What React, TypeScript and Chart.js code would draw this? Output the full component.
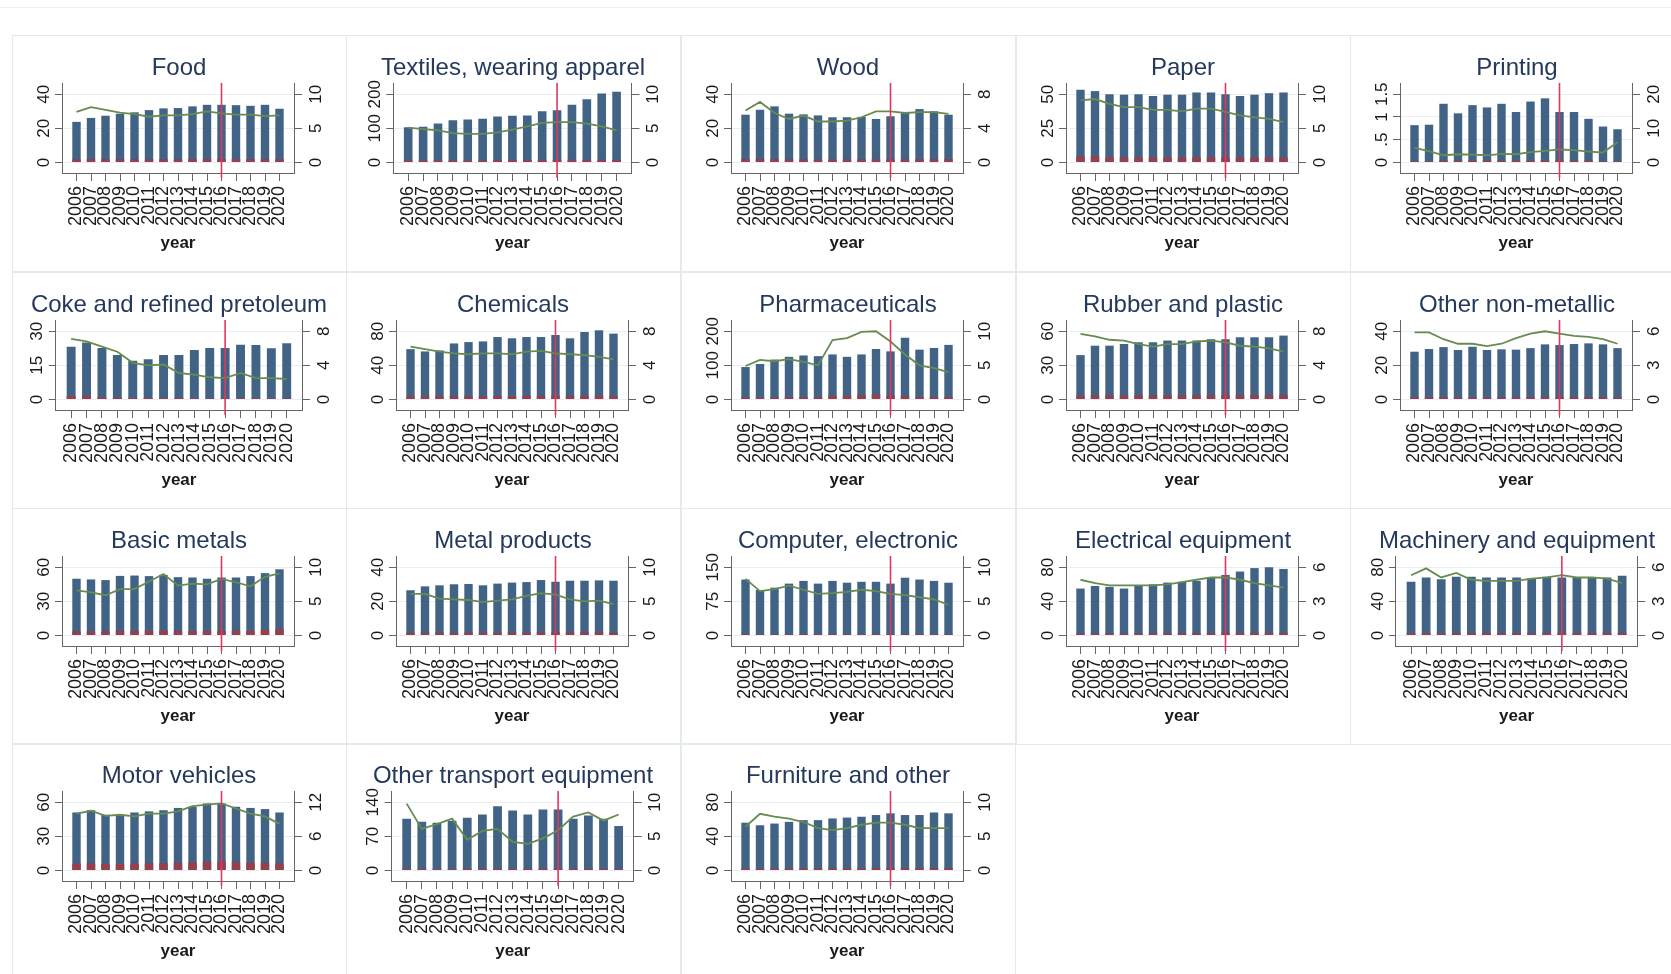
import React, { useEffect, useRef } from 'react';
import { Chart, registerables } from 'chart.js';

Chart.register(...registerables);

// ---- data -------------------------------------------------------------
const years = [2006, 2007, 2008, 2009, 2010, 2011, 2012, 2013, 2014, 2015, 2016, 2017, 2018, 2019, 2020];
const markerYear = 2016;

const foodBar = [23.8, 26.1, 27.4, 28.6, 29.4, 30.7, 31.7, 31.9, 32.9, 33.8, 33.8, 33.6, 33.2, 33.8, 31.5];
const foodBase = [1.8, 1.9, 1.9, 1.9, 1.8, 1.8, 1.9, 1.9, 2.0, 2.1, 2.1, 2.0, 2.0, 2.0, 1.9];
const foodLine = [7.4, 8.1, 7.7, 7.3, 7.1, 6.7, 6.9, 6.9, 7.1, 7.5, 7.2, 7.0, 7.0, 6.8, 6.9];
const foodTicks = [0, 20, 40];
const foodTicks2 = [0, 5, 10];

const textilesBar = [103, 105, 114, 124, 126, 128, 135, 137, 138, 150, 153, 169, 185, 202, 207];
const textilesBase = [6, 6, 6, 6, 6, 6, 7, 7, 7, 8, 8, 8, 8, 8, 8];
const textilesLine = [5.1, 4.9, 4.7, 4.3, 4.2, 4.2, 4.4, 4.8, 5.3, 5.8, 5.9, 5.9, 5.7, 5.3, 4.7];
const textilesTicks = [0, 100, 200];
const textilesTicks2 = [0, 5, 10];

const woodBar = [28.0, 30.9, 32.9, 28.6, 28.2, 27.6, 26.5, 26.5, 26.7, 25.5, 27.1, 29.4, 31.3, 30.0, 28.0];
const woodBase = [2.0, 2.0, 2.0, 1.8, 1.8, 1.8, 1.7, 1.7, 1.8, 1.8, 1.8, 1.8, 1.9, 1.9, 1.9];
const woodLine = [6.1, 7.1, 5.8, 5.1, 5.5, 4.8, 4.8, 4.9, 5.3, 6.0, 6.0, 5.8, 5.9, 5.9, 5.7];
const woodTicks = [0, 20, 40];
const woodTicks2 = [0, 4, 8];

const paperBar = [53.3, 52.3, 50.0, 49.7, 50.0, 48.7, 49.7, 49.7, 51.3, 51.3, 50.0, 48.7, 49.7, 50.8, 51.3];
const paperBase = [4.4, 4.6, 3.8, 3.6, 3.6, 3.6, 3.6, 3.6, 3.7, 3.8, 3.6, 3.6, 3.6, 3.5, 3.5];
const paperLine = [9.1, 9.3, 8.6, 8.1, 8.1, 7.7, 7.7, 7.5, 7.9, 7.9, 7.4, 6.9, 6.6, 6.4, 5.9];
const paperTicks = [0, 25, 50];
const paperTicks2 = [0, 5, 10];

const printingBar = [0.82, 0.83, 1.29, 1.08, 1.26, 1.21, 1.29, 1.11, 1.34, 1.41, 1.11, 1.11, 0.96, 0.79, 0.73];
const printingBase = [0.03, 0.03, 0.04, 0.04, 0.04, 0.04, 0.04, 0.04, 0.04, 0.05, 0.04, 0.04, 0.04, 0.03, 0.03];
const printingLine = [4.3, 3.3, 2.1, 2.4, 2.3, 2.1, 2.5, 2.4, 3.0, 3.4, 3.8, 3.6, 3.2, 2.9, 5.9];
const printingTicks = [0, 0.5, 1, 1.5];
const printingTicks2 = [0, 10, 20];

const cokeBar = [23.2, 25.1, 22.6, 19.6, 17.0, 17.7, 19.5, 19.5, 21.7, 22.6, 22.6, 24.1, 23.9, 22.5, 24.7];
const cokeBase = [1.5, 1.6, 1.0, 0.9, 0.6, 0.6, 0.6, 0.6, 0.5, 0.5, 0.5, 0.6, 0.5, 0.5, 0.5];
const cokeLine = [7.1, 6.8, 6.2, 5.6, 4.3, 4.0, 4.1, 3.1, 2.9, 2.6, 2.5, 3.1, 2.5, 2.5, 2.4];
const cokeTicks = [0, 15, 30];
const cokeTicks2 = [0, 4, 8];

const chemicalsBar = [59.0, 56.3, 57.5, 65.7, 67.3, 68.1, 73.2, 71.7, 73.2, 73.2, 75.6, 71.7, 79.1, 81.1, 77.2];
const chemicalsBase = [3.6, 3.5, 3.5, 3.8, 3.8, 3.9, 4.0, 4.0, 4.1, 4.2, 4.3, 4.1, 4.2, 4.3, 4.0];
const chemicalsLine = [6.2, 5.9, 5.6, 5.4, 5.3, 5.4, 5.4, 5.3, 5.6, 5.7, 5.4, 5.3, 5.2, 5.0, 4.7];
const chemicalsTicks = [0, 40, 80];
const chemicalsTicks2 = [0, 4, 8];

const pharmaBar = [95, 104, 117, 125, 129, 127, 132, 125, 132, 148, 141, 181, 146, 151, 160];
const pharmaBase = [6, 6, 6, 7, 7, 7, 11, 11, 12, 15, 11, 10, 7, 7, 7];
const pharmaLine = [4.9, 5.8, 5.6, 5.9, 5.5, 5.0, 8.7, 9.0, 9.9, 10.0, 8.5, 6.6, 5.0, 4.6, 4.0];
const pharmaTicks = [0, 100, 200];
const pharmaTicks2 = [0, 5, 10];

const rubberBar = [39.0, 47.3, 47.3, 48.8, 50.3, 50.3, 51.8, 51.8, 51.8, 53.0, 53.0, 54.7, 54.7, 54.7, 56.2];
const rubberBase = [3.3, 3.5, 3.5, 3.5, 3.6, 3.6, 3.7, 3.7, 3.7, 3.8, 3.8, 3.8, 3.8, 3.7, 3.7];
const rubberLine = [7.7, 7.4, 7.0, 6.9, 6.5, 6.2, 6.5, 6.5, 6.8, 6.9, 6.7, 6.3, 6.2, 6.0, 5.6];
const rubberTicks = [0, 30, 60];
const rubberTicks2 = [0, 4, 8];

const nonMetallicBar = [28.0, 29.6, 30.7, 29.0, 30.9, 29.0, 29.4, 29.2, 30.1, 32.3, 31.9, 32.5, 32.9, 32.3, 30.1];
const nonMetallicBase = [1.3, 1.4, 1.4, 1.3, 1.3, 1.3, 1.3, 1.3, 1.3, 1.6, 1.5, 1.4, 1.4, 1.4, 1.3];
const nonMetallicLine = [5.9, 5.9, 5.3, 4.9, 4.9, 4.7, 4.9, 5.4, 5.8, 6.0, 5.8, 5.6, 5.5, 5.3, 4.9];
const nonMetallicTicks = [0, 20, 40];
const nonMetallicTicks2 = [0, 3, 6];

const basicMetalsBar = [49.9, 49.3, 48.7, 52.4, 52.7, 52.2, 53.3, 51.3, 51.0, 49.9, 51.0, 51.0, 52.2, 54.8, 58.2];
const basicMetalsBase = [3.6, 3.5, 3.5, 4.0, 4.0, 4.2, 4.4, 4.0, 4.0, 3.9, 4.0, 4.1, 4.1, 4.8, 5.6];
const basicMetalsLine = [6.6, 6.3, 5.9, 6.8, 6.8, 7.9, 9.0, 7.3, 7.6, 7.5, 8.3, 7.8, 7.2, 8.6, 9.1];
const basicMetalsTicks = [0, 30, 60];
const basicMetalsTicks2 = [0, 5, 10];

const metalProductsBar = [26.5, 28.8, 29.4, 30.0, 30.2, 29.4, 30.4, 31.0, 31.3, 32.5, 31.5, 32.1, 32.1, 32.3, 32.1];
const metalProductsBase = [1.6, 1.7, 1.7, 1.7, 1.7, 1.7, 1.7, 1.7, 1.8, 1.9, 1.8, 1.8, 1.8, 1.8, 1.7];
const metalProductsLine = [6.1, 6.1, 5.4, 5.3, 5.2, 4.9, 5.1, 5.3, 5.8, 6.2, 6.0, 5.3, 5.0, 5.1, 4.6];
const metalProductsTicks = [0, 20, 40];
const metalProductsTicks2 = [0, 5, 10];

const computerBar = [123, 100, 105, 114, 120, 114, 120, 116, 118, 118, 114, 127, 123, 120, 116];
const computerBase = [3.2, 3.0, 3.0, 3.1, 3.2, 3.1, 3.2, 3.1, 3.1, 3.2, 3.1, 3.3, 3.2, 3.2, 3.1];
const computerLine = [8.3, 6.5, 6.8, 7.3, 6.7, 6.1, 6.2, 6.4, 6.7, 6.5, 6.1, 5.9, 5.6, 5.3, 4.5];
const computerTicks = [0, 75, 150];
const computerTicks2 = [0, 5, 10];

const electricalBar = [55, 58, 57, 55, 59, 60, 62, 63, 64, 68, 71, 75, 79, 80, 78];
const electricalBase = [2.4, 2.5, 2.5, 2.4, 2.5, 2.6, 2.6, 2.7, 2.7, 2.8, 2.9, 3.0, 3.1, 3.2, 3.1];
const electricalLine = [4.9, 4.6, 4.4, 4.4, 4.4, 4.4, 4.5, 4.7, 4.9, 5.1, 5.1, 4.9, 4.6, 4.4, 4.2];
const electricalTicks = [0, 40, 80];
const electricalTicks2 = [0, 3, 6];

const machineryBar = [63, 68, 66, 69, 69, 68, 68, 68, 67, 69, 68, 68, 68, 68, 70];
const machineryBase = [2.6, 2.8, 2.7, 2.8, 2.8, 2.8, 2.8, 2.8, 2.7, 2.8, 2.8, 2.8, 2.8, 2.8, 2.9];
const machineryLine = [5.3, 5.9, 5.1, 5.5, 4.9, 4.8, 4.8, 4.8, 5.0, 5.1, 5.3, 5.1, 5.1, 5.0, 4.6];
const machineryTicks = [0, 40, 80];
const machineryTicks2 = [0, 3, 6];

const motorBar = [51, 53, 49, 48, 51, 52, 53, 55, 56, 59, 59, 56, 55, 54, 51];
const motorBase = [6.0, 6.2, 5.8, 5.8, 6.0, 6.2, 6.4, 6.8, 7.0, 7.6, 7.8, 7.0, 6.8, 6.6, 6.2];
const motorLine = [10.0, 10.5, 9.6, 9.8, 9.5, 10.0, 10.0, 10.4, 11.3, 11.6, 11.8, 10.9, 10.0, 9.5, 8.2];
const motorTicks = [0, 30, 60];
const motorTicks2 = [0, 6, 12];

const transportBar = [106, 100, 98, 102, 108, 115, 132, 123, 115, 125, 125, 106, 113, 106, 91];
const transportBase = [3.2, 3.0, 3.0, 3.1, 3.2, 3.4, 3.8, 3.6, 3.4, 3.6, 3.6, 3.2, 3.4, 3.2, 2.8];
const transportLine = [9.8, 6.1, 6.8, 7.6, 4.5, 5.8, 6.1, 4.2, 3.9, 4.7, 5.9, 7.9, 8.5, 7.3, 8.2];
const transportTicks = [0, 70, 140];
const transportTicks2 = [0, 5, 10];

const furnitureBar = [56, 53, 55, 57, 59, 59, 61, 62, 63, 65, 67, 65, 65, 68, 67];
const furnitureBase = [2.4, 2.3, 2.4, 2.5, 2.5, 2.5, 2.6, 2.6, 2.7, 2.8, 2.8, 2.8, 2.8, 2.9, 2.8];
const furnitureLine = [6.4, 8.3, 7.9, 7.6, 7.1, 6.2, 5.9, 6.2, 6.7, 7.0, 7.0, 6.7, 6.2, 6.2, 6.2];
const furnitureTicks = [0, 40, 80];
const furnitureTicks2 = [0, 5, 10];

type Sector = {
  title: string;
  bar: number[];
  base: number[];
  line: number[];
  ticks: number[];
  ticks2: number[];
};

const sectors: Sector[] = [
  { title: 'Food', bar: foodBar, base: foodBase, line: foodLine, ticks: foodTicks, ticks2: foodTicks2 },
  { title: 'Textiles, wearing apparel', bar: textilesBar, base: textilesBase, line: textilesLine, ticks: textilesTicks, ticks2: textilesTicks2 },
  { title: 'Wood', bar: woodBar, base: woodBase, line: woodLine, ticks: woodTicks, ticks2: woodTicks2 },
  { title: 'Paper', bar: paperBar, base: paperBase, line: paperLine, ticks: paperTicks, ticks2: paperTicks2 },
  { title: 'Printing', bar: printingBar, base: printingBase, line: printingLine, ticks: printingTicks, ticks2: printingTicks2 },
  { title: 'Coke and refined pretoleum', bar: cokeBar, base: cokeBase, line: cokeLine, ticks: cokeTicks, ticks2: cokeTicks2 },
  { title: 'Chemicals', bar: chemicalsBar, base: chemicalsBase, line: chemicalsLine, ticks: chemicalsTicks, ticks2: chemicalsTicks2 },
  { title: 'Pharmaceuticals', bar: pharmaBar, base: pharmaBase, line: pharmaLine, ticks: pharmaTicks, ticks2: pharmaTicks2 },
  { title: 'Rubber and plastic', bar: rubberBar, base: rubberBase, line: rubberLine, ticks: rubberTicks, ticks2: rubberTicks2 },
  { title: 'Other non-metallic', bar: nonMetallicBar, base: nonMetallicBase, line: nonMetallicLine, ticks: nonMetallicTicks, ticks2: nonMetallicTicks2 },
  { title: 'Basic metals', bar: basicMetalsBar, base: basicMetalsBase, line: basicMetalsLine, ticks: basicMetalsTicks, ticks2: basicMetalsTicks2 },
  { title: 'Metal products', bar: metalProductsBar, base: metalProductsBase, line: metalProductsLine, ticks: metalProductsTicks, ticks2: metalProductsTicks2 },
  { title: 'Computer, electronic', bar: computerBar, base: computerBase, line: computerLine, ticks: computerTicks, ticks2: computerTicks2 },
  { title: 'Electrical equipment', bar: electricalBar, base: electricalBase, line: electricalLine, ticks: electricalTicks, ticks2: electricalTicks2 },
  { title: 'Machinery and equipment', bar: machineryBar, base: machineryBase, line: machineryLine, ticks: machineryTicks, ticks2: machineryTicks2 },
  { title: 'Motor vehicles', bar: motorBar, base: motorBase, line: motorLine, ticks: motorTicks, ticks2: motorTicks2 },
  { title: 'Other transport equipment', bar: transportBar, base: transportBase, line: transportLine, ticks: transportTicks, ticks2: transportTicks2 },
  { title: 'Furniture and other', bar: furnitureBar, base: furnitureBase, line: furnitureLine, ticks: furnitureTicks, ticks2: furnitureTicks2 },
];

// ---- styling ----------------------------------------------------------
const FONT = '"Liberation Sans", Arial, Helvetica, sans-serif';
const NAVY = '#416385';
const MAROON = '#983e4c';
const GREEN = '#678c4f';
const MARKER = '#e2375f';
const AXIS = '#666666';
const GRID = '#e8eff2';
const TEXT = '#1a1a1a';
const TITLE = '#24395c';

const PANEL_W = 334;
const PANEL_H = 236;
const COL_X = [12, 346, 681, 1016, 1350];
const ROW_Y = [35, 272, 508, 743];
const PLOT_TOP = 48;
const AXIS_BAND = 98; // space under the plot for ticks, year labels and the axis title

Chart.defaults.font.family = FONT;

const fmtTick = (v: number) => String(v).replace(/^0\./, '.');

// vertical reference line at the marker year
const markerLine = {
  id: 'markerLine',
  afterDatasetsDraw(chart: any) {
    const { ctx, chartArea, scales } = chart;
    const x = scales.x.getPixelForValue(markerYear);
    ctx.save();
    ctx.strokeStyle = MARKER;
    ctx.lineWidth = 1.6;
    ctx.beginPath();
    ctx.moveTo(x, chartArea.top);
    ctx.lineTo(x, chartArea.bottom + 5);
    ctx.stroke();
    ctx.restore();
  },
};

function Panel({ s, left, top }: { s: Sector; left: number; top: number }) {
  const ref = useRef<HTMLCanvasElement>(null);

  useEffect(() => {
    const canvas = ref.current!;
    const mctx = canvas.getContext('2d')!;

    // long titles widen the plot region a little
    mctx.font = `24px ${FONT}`;
    const titleW = mctx.measureText(s.title).width;
    const shrink = Math.max(0, (titleW - 240) / 9);
    const leftW = 50 - shrink;
    const rightW = 52 - shrink * 1.3;

    // rotated tick labels are centred by Chart.js using their unrotated width
    mctx.font = `17px ${FONT}`;
    const wL = Math.max(...s.ticks.map((v) => mctx.measureText(fmtTick(v)).width));
    const wR = Math.max(...s.ticks2.map((v) => mctx.measureText(fmtTick(v)).width));

    const topL = s.ticks[s.ticks.length - 1];
    const topR = s.ticks2[s.ticks2.length - 1];
    const pts = (arr: number[]) => years.map((x, i) => ({ x, y: arr[i] }));

    const tickFont = { size: 17, family: FONT };

    const chart = new Chart(canvas, {
      type: 'bar',
      data: {
        datasets: [
          {
            type: 'line',
            data: pts(s.line),
            yAxisID: 'y2',
            borderColor: GREEN,
            borderWidth: 1.8,
            pointRadius: 0,
            tension: 0,
            fill: false,
            order: 0,
          } as any,
          {
            type: 'bar',
            data: pts(s.base),
            yAxisID: 'y',
            backgroundColor: MAROON,
            grouped: false,
            barPercentage: 0.58,
            categoryPercentage: 1,
            order: 1,
          },
          {
            type: 'bar',
            data: pts(s.bar),
            yAxisID: 'y',
            backgroundColor: NAVY,
            grouped: false,
            barPercentage: 0.58,
            categoryPercentage: 1,
            order: 2,
          },
        ],
      },
      options: {
        responsive: false,
        animation: false,
        devicePixelRatio: 1,
        events: [],
        layout: { padding: 0 },
        plugins: {
          legend: { display: false },
          tooltip: { enabled: false },
          title: {
            display: true,
            text: s.title,
            color: TITLE,
            font: { size: 24, family: FONT, weight: 'normal' },
            padding: { top: PLOT_TOP - 28.8, bottom: 0 },
          },
        },
        scales: {
          x: {
            type: 'linear',
            position: 'bottom',
            min: 2005,
            max: 2021,
            offset: false,
            bounds: 'data',
            afterBuildTicks: (sc: any) => {
              sc.ticks = years.map((v) => ({ value: v }));
            },
            afterFit: (sc: any) => {
              sc.height = AXIS_BAND;
            },
            ticks: {
              autoSkip: false,
              minRotation: 90,
              maxRotation: 90,
              padding: 5,
              color: TEXT,
              font: { size: 18, family: FONT },
              callback: (v: any) => String(v),
            },
            grid: { drawOnChartArea: false, offset: false, tickLength: 8, tickColor: AXIS },
            border: { color: AXIS, width: 1 },
            title: {
              display: true,
              text: 'year',
              color: TEXT,
              font: { size: 17, weight: 'bold', family: FONT },
              padding: { top: 0, bottom: 17.5 },
            },
          },
          y: {
            type: 'linear',
            position: 'left',
            min: -0.155 * topL,
            max: 1.165 * topL,
            bounds: 'data',
            afterBuildTicks: (sc: any) => {
              sc.ticks = s.ticks.map((v) => ({ value: v }));
            },
            afterFit: (sc: any) => {
              sc.width = leftW;
            },
            ticks: {
              autoSkip: false,
              minRotation: 90,
              maxRotation: 90,
              crossAlign: 'center',
              padding: 11 - wL / 2,
              color: TEXT,
              font: tickFont,
              callback: (v: any) => fmtTick(Number(v)),
            },
            grid: { color: GRID, tickColor: AXIS, tickLength: 7 },
            border: { color: AXIS, width: 1 },
          },
          y2: {
            type: 'linear',
            position: 'right',
            min: -0.155 * topR,
            max: 1.165 * topR,
            bounds: 'data',
            afterBuildTicks: (sc: any) => {
              sc.ticks = s.ticks2.map((v) => ({ value: v }));
            },
            afterFit: (sc: any) => {
              sc.width = rightW;
            },
            ticks: {
              autoSkip: false,
              minRotation: 90,
              maxRotation: 90,
              crossAlign: 'center',
              padding: 14 - wR / 2,
              color: TEXT,
              font: tickFont,
              callback: (v: any) => fmtTick(Number(v)),
            },
            grid: { drawOnChartArea: false, tickColor: AXIS, tickLength: 8 },
            border: { color: AXIS, width: 1 },
          },
        },
      } as any,
      plugins: [markerLine],
    });

    return () => chart.destroy();
  }, [s]);

  return (
    <div style={{ position: 'absolute', left, top, width: PANEL_W + 1, height: PANEL_H + 1 }}>
      <div
        style={{
          position: 'absolute',
          left: 0,
          top: 0,
          right: 0,
          bottom: 0,
          border: '1px solid #e3eaee',
          boxSizing: 'border-box',
        }}
      />
      <canvas
        ref={ref}
        width={PANEL_W}
        height={PANEL_H}
        style={{ position: 'absolute', left: 0, top: 0, width: PANEL_W, height: PANEL_H }}
      />
    </div>
  );
}

export default function App() {
  return (
    <div
      style={{
        position: 'fixed',
        left: 0,
        top: 0,
        width: 1671,
        height: 974,
        overflow: 'hidden',
        background: '#ffffff',
      }}
    >
      <div style={{ position: 'absolute', left: 0, top: 7, width: 1671, height: 1, background: '#eceff1' }} />
      {sectors.map((s, i) => (
        <Panel key={s.title} s={s} left={COL_X[i % 5]} top={ROW_Y[Math.floor(i / 5)]} />
      ))}
    </div>
  );
}
